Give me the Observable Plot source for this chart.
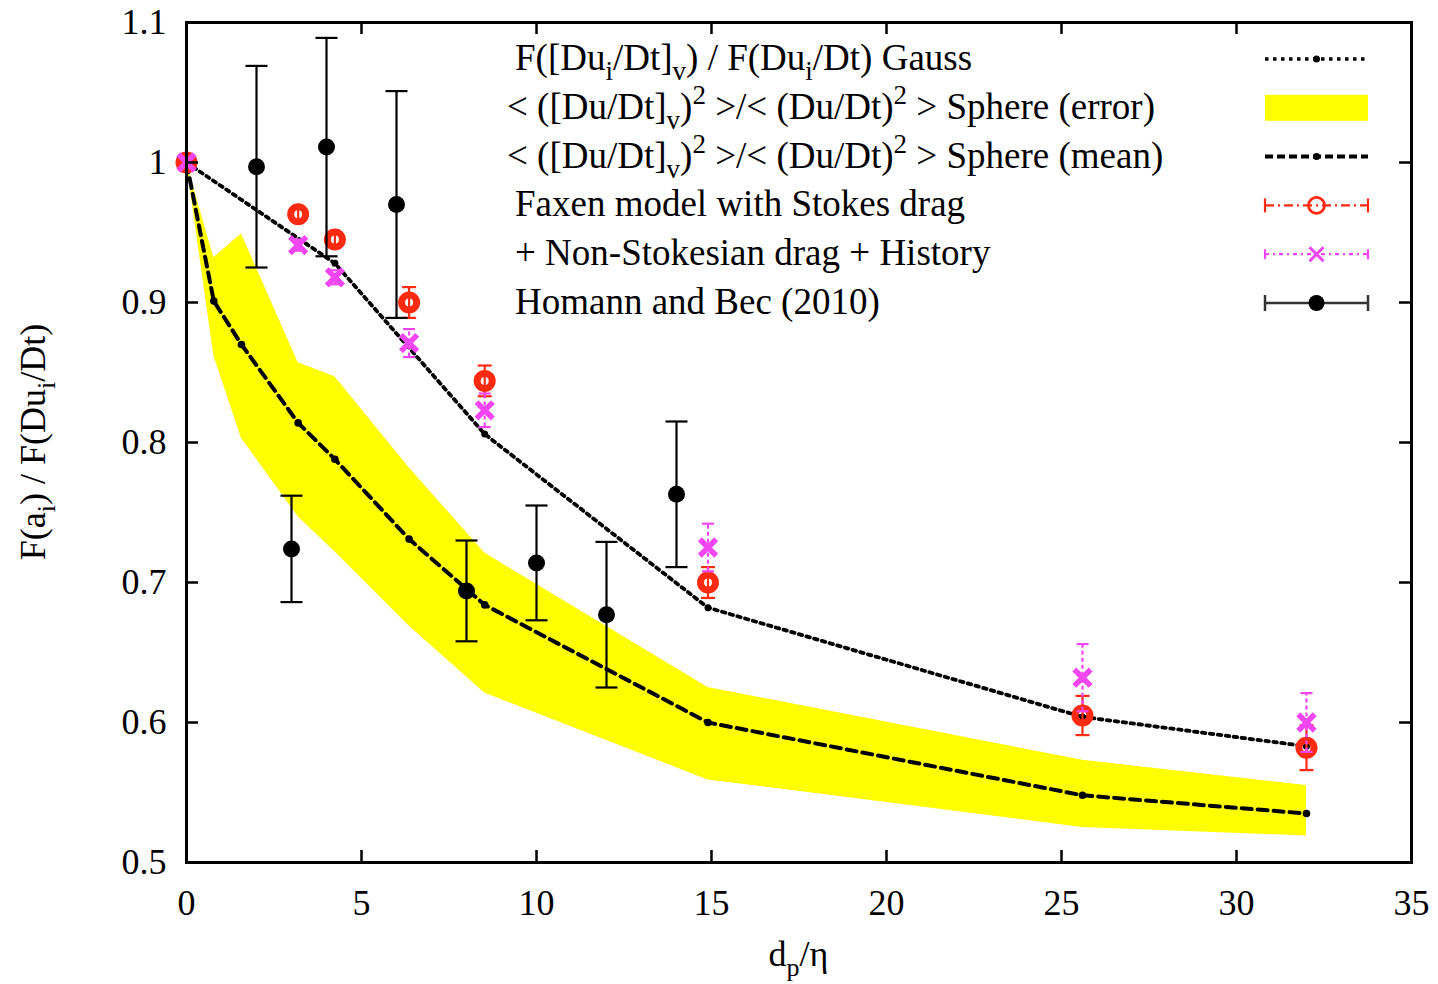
<!DOCTYPE html>
<html><head><meta charset="utf-8">
<script src="https://cdn.jsdelivr.net/npm/d3@7"></script>
<script src="https://cdn.jsdelivr.net/npm/@observablehq/plot@0.6"></script>
<style>html,body{margin:0;padding:0;background:#fff;} #chart svg{display:block}</style>
</head><body><div id="chart"></div>
<script>
// ---- tick values ----
const xTicks = [0, 5, 10, 15, 20, 25, 30, 35];
const yTicks = [0.5, 0.6, 0.7, 0.8, 0.9, 1.0, 1.1];

// ---- Gauss estimate (dotted) ----
const gaussX = [0, 4.24, 8.52, 14.9, 25.6, 32.0];
const gaussY = [1.0, 0.928, 0.806, 0.682, 0.604, 0.583];

// ---- Sphere mean and error band ----
const sphereX    = [0, 0.78, 1.57, 3.19, 4.24, 6.36, 8.52, 14.9, 25.6, 32.0];
const sphereMean = [1.0, 0.901, 0.870, 0.814, 0.788, 0.731, 0.684, 0.600, 0.548, 0.535];
const sphereLow  = [1.0, 0.862, 0.803, 0.747, 0.722, 0.669, 0.621, 0.559, 0.525, 0.519];
const sphereHigh = [1.0, 0.932, 0.949, 0.857, 0.847, 0.782, 0.721, 0.625, 0.573, 0.555];

// ---- Faxen model with Stokes drag ----
const faxenX   = [0, 3.19, 4.24, 6.36, 8.52, 14.9, 25.6, 32.0];
const faxenY   = [1.0, 0.963, 0.945, 0.900, 0.844, 0.700, 0.605, 0.582];
const faxenErr = [0.003, 0.004, 0.005, 0.011, 0.011, 0.011, 0.014, 0.016];

// ---- + Non-Stokesian drag + History ----
const nsX   = [0, 3.19, 4.24, 6.36, 8.52, 14.9, 25.6, 32.0];
const nsY   = [1.0, 0.941, 0.918, 0.871, 0.823, 0.725, 0.632, 0.600];
const nsErr = [0.003, 0.004, 0.005, 0.010, 0.012, 0.017, 0.024, 0.021];

// ---- Homann and Bec (2010) ----
const hbX   = [2, 3, 4, 6, 8, 10, 12, 14];
const hbY   = [0.997, 0.724, 1.011, 0.970, 0.694, 0.714, 0.677, 0.763];
const hbErr = [0.072, 0.038, 0.078, 0.081, 0.036, 0.041, 0.052, 0.052];

// ---- text ----
const legendLines = [
  [["F([Du",0],["i","sub"],["/Dt]",0],["v","sub"],[") / F(Du",0],["i","sub"],["/Dt) Gauss",0]],
  [["< ([Du/Dt]",0],["v","sub"],[")",0],["2","sup"],[" >/< (Du/Dt)",0],["2","sup"],[" > Sphere (error)",0]],
  [["< ([Du/Dt]",0],["v","sub"],[")",0],["2","sup"],[" >/< (Du/Dt)",0],["2","sup"],[" > Sphere (mean)",0]],
  [["Faxen model with Stokes drag",0]],
  [["+ Non-Stokesian drag + History",0]],
  [["Homann and Bec (2010)",0]]
];
const xLabel = [["d",0],["p","sub"],["/η",0]];
const yLabel = [["F(a",0],["i","sub"],[") / F(Du",0],["i","sub"],["/Dt)",0]];

const RED = "#ff2a10", MAG = "#f246f2", YEL = "#ffff00";

const gauss = gaussX.map((x,i)=>({x, y: gaussY[i]}));
const sphere = sphereX.map((x,i)=>({x, m: sphereMean[i], lo: sphereLow[i], hi: sphereHigh[i]}));
const faxen = faxenX.map((x,i)=>({x, y: faxenY[i], e: faxenErr[i]}));
const ns = nsX.map((x,i)=>({x, y: nsY[i], e: nsErr[i]}));
const hb = hbX.map((x,i)=>({x, y: hbY[i], e: hbErr[i]}));

const capSym = {draw(ctx, size){ const r = Math.sqrt(size/Math.PI); ctx.moveTo(-r,0); ctx.lineTo(r,0);} };

const W = 1438, H = 984, mL = 186, mR = 27, mT = 22, mB = 122;
const fw = W - mL - mR, fh = H - mT - mB, tk = 12;

function errMarks(data, color, sw, capR, dash){
  return [
    Plot.ruleX(data, {x:"x", y1: d=>d.y-d.e, y2: d=>d.y+d.e, stroke: color, strokeWidth: sw, strokeDasharray: dash}),
    Plot.dot(data, {x:"x", y: d=>d.y-d.e, symbol: capSym, r: capR, stroke: color, fill: "none", strokeWidth: sw}),
    Plot.dot(data, {x:"x", y: d=>d.y+d.e, symbol: capSym, r: capR, stroke: color, fill: "none", strokeWidth: sw})
  ];
}

const svg = Plot.plot({
  width: W, height: H,
  marginLeft: mL, marginRight: mR, marginTop: mT, marginBottom: mB,
  style: {fontFamily: "'Liberation Serif', 'Times New Roman', serif", fontSize: "36px", color: "black", background: "white"},
  x: {domain: [0, 35]},
  y: {domain: [0.5, 1.1]},
  marks: [
    Plot.areaY(sphere, {x:"x", y1:"lo", y2:"hi", fill: YEL}),
    Plot.line(gauss, {x:"x", y:"y", stroke:"black", strokeWidth: 3.8, strokeDasharray:"3.5,4.5"}),
    Plot.dot(gauss, {x:"x", y:"y", r: 3.5, fill:"black"}),
    Plot.line(sphere, {x:"x", y:"m", stroke:"black", strokeWidth: 4, strokeDasharray:"10,6"}),
    Plot.dot(sphere, {x:"x", y:"m", r: 3.8, fill:"black"}),
    ...errMarks(faxen, RED, 2.2, 7, null),
    Plot.dot(faxen, {x:"x", y:"y", r: 7.5, stroke: RED, strokeWidth: 7, fill:"none"}),
    ...errMarks(ns, MAG, 2.2, 6, "4,3"),
    Plot.dot(ns, {x:"x", y:"y", symbol:"times", r: 7.5, stroke: MAG, strokeWidth: 5.5}),
    ...errMarks(hb, "black", 2.2, 11, null),
    Plot.dot(hb, {x:"x", y:"y", r: 8.5, fill:"black"}),
    // inward ticks on all four sides
    Plot.ruleX(xTicks, {x: d=>d, insetTop: fh - tk, stroke:"black", strokeWidth: 2.5}),
    Plot.ruleX(xTicks, {x: d=>d, insetBottom: fh - tk, stroke:"black", strokeWidth: 2.5}),
    Plot.ruleY(yTicks, {y: d=>d, insetRight: fw - tk, stroke:"black", strokeWidth: 2.5}),
    Plot.ruleY(yTicks, {y: d=>d, insetLeft: fw - tk, stroke:"black", strokeWidth: 2.5}),
    Plot.frame({stroke:"black", strokeWidth: 3}),
    Plot.axisX({ticks: xTicks, tickSize: 0, tickPadding: 27, label: null, tickFormat: d=>String(d)}),
    Plot.axisY({ticks: yTicks, tickSize: 0, tickPadding: 20, label: null, tickFormat: d=>String(Math.round(d*10)/10)})
  ]
});
document.getElementById("chart").appendChild(svg);

const root = d3.select(svg);
const g = root.append("g").attr("font-family","'Liberation Serif', 'Times New Roman', serif").attr("font-size", 36).attr("fill","black");

function rich(sel, parts, sub){
  let shift = 0;
  for (const [s, k] of parts){
    const target = k==="sub" ? 10 : k==="sup" ? -15 : 0;
    const ts = sel.append("tspan").attr("dy", target - shift).text(s);
    if (k) ts.attr("font-size", sub);
    shift = target;
  }
  return sel;
}

// axis labels
rich(g.append("text").attr("x", (mL + W - mR)/2).attr("y", 966).attr("text-anchor","middle"), xLabel, 26);
rich(g.append("text").attr("transform","translate(45,442) rotate(-90)").attr("text-anchor","middle"), yLabel, 26);

// legend
const lx = [515, 507, 507, 515, 515, 515];
const sx1 = 1265, sx2 = 1368, sxm = (sx1+sx2)/2;
legendLines.forEach((parts, i) => {
  const base = 70 + i*48.8;
  rich(g.append("text").attr("x", lx[i]).attr("y", base).attr("text-anchor","start").attr("font-size", 37), parts, 27);
});
const sy = i => 59 + i*48.8;
const lg = root.append("g");
// Gauss
lg.append("line").attr("x1",sx1).attr("x2",sx2).attr("y1",sy(0)).attr("y2",sy(0)).attr("stroke","black").attr("stroke-width",3.5).attr("stroke-dasharray","3.5,4.5");
lg.append("circle").attr("cx",sxm).attr("cy",sy(0)).attr("r",3.5).attr("fill","black");
// error band
lg.append("rect").attr("x",sx1).attr("y",sy(1)-13).attr("width",sx2-sx1).attr("height",26).attr("fill",YEL);
// mean
lg.append("line").attr("x1",sx1).attr("x2",sx2).attr("y1",sy(2)).attr("y2",sy(2)).attr("stroke","black").attr("stroke-width",4).attr("stroke-dasharray","8,4");
lg.append("circle").attr("cx",sxm).attr("cy",sy(2)).attr("r",3.5).attr("fill","black");
// error-bar legend samples
function errLegend(y, color, dash, sw, capH){
  lg.append("line").attr("x1",sx1).attr("x2",sx2).attr("y1",y).attr("y2",y).attr("stroke",color).attr("stroke-width",sw).attr("stroke-dasharray",dash);
  [sx1, sx2].forEach(x => lg.append("line").attr("x1",x).attr("x2",x).attr("y1",y-capH).attr("y2",y+capH).attr("stroke",color).attr("stroke-width",sw));
}
errLegend(sy(3), RED, "9,4,2,4", 2.2, 7);
lg.append("circle").attr("cx",sxm).attr("cy",sy(3)).attr("r",8).attr("fill","none").attr("stroke",RED).attr("stroke-width",2.8);
errLegend(sy(4), MAG, "4,4,2,4", 2.2, 5);
lg.append("path").attr("d",`M${sxm-7},${sy(4)-7}L${sxm+7},${sy(4)+7}M${sxm-7},${sy(4)+7}L${sxm+7},${sy(4)-7}`).attr("stroke",MAG).attr("stroke-width",3);
errLegend(sy(5), "#333", null, 2.5, 8);
lg.append("circle").attr("cx",sxm).attr("cy",sy(5)).attr("r",8).attr("fill","black");
</script>
</body></html>
